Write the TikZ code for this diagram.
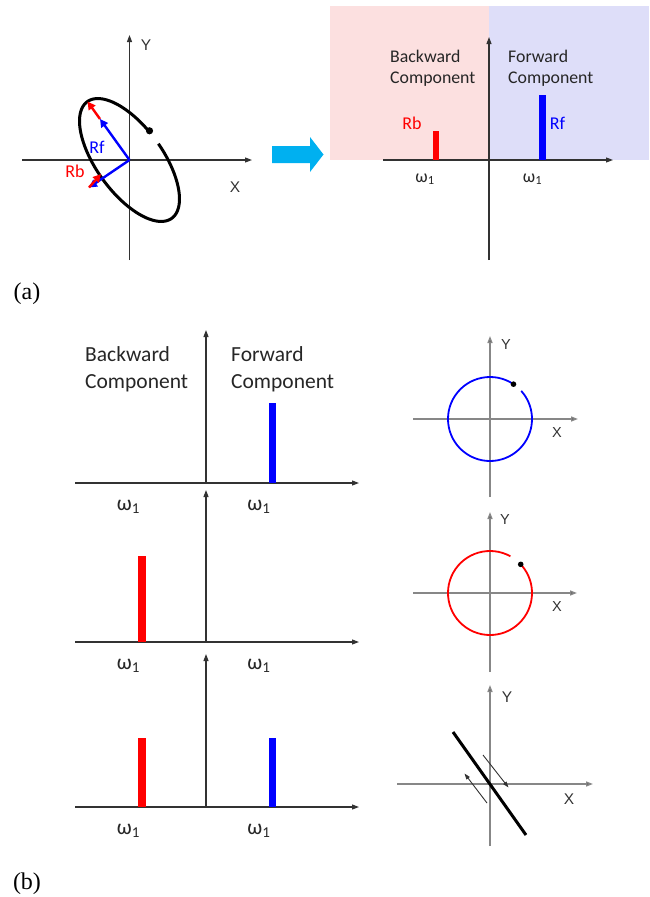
\documentclass[tikz,border=0pt]{standalone}
\usepackage{fontspec}
\setmainfont{Carlito}
\newfontfamily\arialf{Liberation Sans}
\newfontfamily\timesf{Liberation Serif}
\usetikzlibrary{arrows.meta,calc}
\definecolor{pinkbg}{RGB}{252,224,224}
\definecolor{lavbg}{RGB}{222,222,249}
\definecolor{axdark}{RGB}{50,50,50}
\definecolor{axgray}{RGB}{135,135,135}
\definecolor{cyanarrow}{RGB}{0,176,240}
\definecolor{pureblue}{RGB}{0,0,255}
\definecolor{purered}{RGB}{255,0,0}
\tikzset{
  axis/.style={draw=axdark, line width=1.1pt, -{Triangle[length=7pt,width=5pt]}},
  gaxis/.style={draw=axgray, line width=1.4pt, -{Triangle[length=7pt,width=5pt,fill=axdark]}},
  xylbl/.style={font=\arialf\fontsize{15.5}{15.5}\selectfont, inner sep=0pt, text=axdark},
  sxylbl/.style={font=\arialf\fontsize{14.5}{14.5}\selectfont, inner sep=0pt, text=axdark},
  bartop/.style={line width=6.5pt},
  barbot/.style={line width=7.5pt},
  vec/.style={line width=2.4pt, -{Triangle[length=8pt,width=8pt]}},
  thinarrow/.style={draw=axdark, line width=0.9pt, -{Triangle[length=6pt,width=4pt]}},
  toptext/.style={font=\fontsize{17.8}{21.5}\selectfont, align=left, inner sep=0pt, anchor=north west, text=black!85},
  bottext/.style={font=\fontsize{21.5}{26.5}\selectfont, align=left, inner sep=0pt, anchor=north west, text=black!85},
  omtop/.style={font=\fontsize{17.8}{20}\selectfont, inner sep=0pt, anchor=base, text=black!85},
  ombot/.style={font=\fontsize{21.5}{24}\selectfont, inner sep=0pt, anchor=base, text=black!85},
  panellbl/.style={font=\timesf\fontsize{24}{24}\selectfont, inner sep=0pt}
}
\begin{document}
\begin{tikzpicture}[x=1pt,y=-1pt]
\useasboundingbox (0,0) rectangle (649,897);

% ---------------- (a) left: ellipse ----------------
\coordinate (oA) at (129.5,160);
\coordinate (axAl) at (22,160);
\coordinate (axAr) at (252,160);
\coordinate (axAb) at (129.5,260);
\coordinate (axAt) at (129.5,35);
\draw[axis] (axAl) -- (axAr);
\draw[axis] (axAb) -- (axAt);
\node[xylbl] (yA) at (146,45) {Y};
\node[xylbl] (xA) at (235,187) {X};

\draw[line width=3pt, black] plot[domain=93:440, samples=150, smooth]
  ({129.5 + 72*cos(\x)*(-0.5866) + 33*sin(\x)*0.810},
   {160 + 72*cos(\x)*(-0.810) + 33*sin(\x)*(-0.5866)});
\coordinate (edot) at (149.5,130.8);
\fill[black] (edot) circle (3.6);

\coordinate (rfu) at (100,119);
\coordinate (rbu) at (87.5,101.5);
\coordinate (rfd) at (89,187.5);
\coordinate (rbd) at (101,174);
\draw[vec, purered] (rfu) -- (rbu);
\draw[vec, pureblue] (oA) -- (rfu);
\draw[vec, pureblue] (oA) -- (rfd);
\draw[vec, purered] (rfd) -- (rbd);
\node[font=\fontsize{18}{18}\selectfont, text=pureblue, inner sep=0pt] (rfA) at (97,147) {Rf};
\node[font=\fontsize{18}{18}\selectfont, text=purered, inner sep=0pt] (rbA) at (75,171.5) {Rb};

% big arrow
\fill[cyanarrow] (272,146) -- (310,146) -- (310,137) -- (323.5,154.5) -- (310,172) -- (310,163) -- (272,163) -- cycle;

% ---------------- (a) right: spectrum ----------------
\fill[pinkbg] (330,6) rectangle (489,160);
\fill[lavbg] (489,6) rectangle (649,160);
\coordinate (oB) at (489,160);
\coordinate (axBl) at (383,160);
\coordinate (axBr) at (613,160);
\coordinate (axBb) at (489,260);
\coordinate (axBt) at (489,37);
\draw[axis] (axBl) -- (axBr);
\draw[axis] (axBb) -- (axBt);
\coordinate (rbB0) at (436,160);
\coordinate (rbB1) at (436,131);
\coordinate (rfB0) at (542.5,160);
\coordinate (rfB1) at (542.5,95);
\draw[bartop, purered] (rbB0) -- (rbB1);
\draw[bartop, pureblue] (rfB0) -- (rfB1);
\node[toptext] (bwB) at (390,49.5) {Backward\\Component};
\node[toptext] (fwB) at (508,49.5) {Forward\\Component};
\node[font=\fontsize{18}{18}\selectfont, text=purered, inner sep=0pt] (rbB) at (412,123) {Rb};
\node[font=\fontsize{18}{18}\selectfont, text=pureblue, inner sep=0pt] (rfB) at (557.5,123) {Rf};
\node[omtop] (omB1) at (425,182) {ω\textsubscript{1}};
\node[omtop] (omB2) at (532.5,182) {ω\textsubscript{1}};

\node[panellbl] (pa) at (27,294) {(a)};

% ---------------- (b) spectra ----------------
% spectrum 1
\coordinate (s1l) at (75,483);
\coordinate (s1r) at (359,483);
\coordinate (s1b) at (206,483);
\coordinate (s1t) at (206,330);
\draw[axis] (s1l) -- (s1r);
\draw[axis] (s1b) -- (s1t);
\coordinate (s1f0) at (272.5,483);
\coordinate (s1f1) at (272.5,403);
\draw[barbot, pureblue] (s1f0) -- (s1f1);
\node[bottext] (bw1) at (85,346.5) {Backward\\Component};
\node[bottext] (fw1) at (231,346.5) {Forward\\Component};
\node[ombot] (om11) at (128.5,510) {ω\textsubscript{1}};
\node[ombot] (om12) at (259,510) {ω\textsubscript{1}};

% spectrum 2
\coordinate (s2l) at (75,642);
\coordinate (s2r) at (359,642);
\coordinate (s2b) at (206,642);
\coordinate (s2t) at (206,490);
\draw[axis] (s2l) -- (s2r);
\draw[axis] (s2b) -- (s2t);
\coordinate (s2b0) at (142,642);
\coordinate (s2b1) at (142,556);
\draw[barbot, purered] (s2b0) -- (s2b1);
\node[ombot] (om21) at (128.5,669) {ω\textsubscript{1}};
\node[ombot] (om22) at (259,669) {ω\textsubscript{1}};

% spectrum 3
\coordinate (s3l) at (75,807);
\coordinate (s3r) at (359,807);
\coordinate (s3b) at (206,807);
\coordinate (s3t) at (206,654);
\draw[axis] (s3l) -- (s3r);
\draw[axis] (s3b) -- (s3t);
\coordinate (s3b0) at (142,807);
\coordinate (s3b1) at (142,738);
\coordinate (s3f0) at (272.5,807);
\coordinate (s3f1) at (272.5,738);
\draw[barbot, purered] (s3b0) -- (s3b1);
\draw[barbot, pureblue] (s3f0) -- (s3f1);
\node[ombot] (om31) at (128.5,834) {ω\textsubscript{1}};
\node[ombot] (om32) at (259,834) {ω\textsubscript{1}};

% ---------------- (b) right: trajectories ----------------
% blue circle
\coordinate (c1) at (490,419);
\coordinate (c1l) at (413,419);
\coordinate (c1r) at (578,419);
\coordinate (c1b) at (490,497);
\coordinate (c1t) at (490,336);
\draw[gaxis] (c1l) -- (c1r);
\draw[gaxis] (c1b) -- (c1t);
\draw[pureblue, line width=1.8pt] ($(c1)+(-56:42)$) arc[start angle=-56, end angle=-402, radius=42];
\fill[black] ($(c1)+(-56:42)$) circle (2.8);
\node[sxylbl] (y1) at (506,345) {Y};
\node[sxylbl] (x1) at (557,433) {X};

% red circle
\coordinate (c2) at (490,593);
\coordinate (c2l) at (413,593);
\coordinate (c2r) at (577,593);
\coordinate (c2b) at (490,672);
\coordinate (c2t) at (490,512);
\draw[gaxis] (c2l) -- (c2r);
\draw[gaxis] (c2b) -- (c2t);
\draw[purered, line width=1.8pt] ($(c2)+(-61:42)$) arc[start angle=-61, end angle=-403, radius=42];
\fill[black] ($(c2)+(-43:42)$) circle (2.8);
\node[sxylbl] (y2) at (505,520) {Y};
\node[sxylbl] (x2) at (557,607) {X};

% line
\coordinate (c3) at (490,784);
\coordinate (c3l) at (397,784);
\coordinate (c3r) at (593,784);
\coordinate (c3b) at (490,846);
\coordinate (c3t) at (490,685);
\draw[gaxis] (c3l) -- (c3r);
\draw[gaxis] (c3b) -- (c3t);
\coordinate (l1) at (453,732);
\coordinate (l2) at (526,835);
\draw[black, line width=3pt] (l1) -- (l2);
\coordinate (a1s) at (483,755);
\coordinate (a1e) at (508.5,787.5);
\coordinate (a2s) at (487,803);
\coordinate (a2e) at (464.5,773.5);
\draw[thinarrow] (a1s) -- (a1e);
\draw[thinarrow] (a2s) -- (a2e);
\node[xylbl] (y3) at (507,697) {Y};
\node[xylbl] (x3) at (569,799) {X};

\node[panellbl] (pb) at (27,884) {(b)};
\end{tikzpicture}
\end{document}
